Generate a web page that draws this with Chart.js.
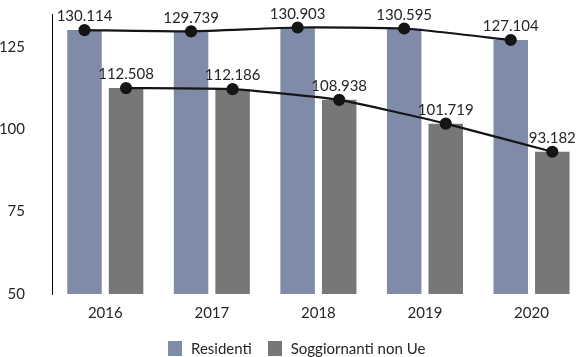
<!DOCTYPE html>
<html>
<head>
<meta charset="utf-8">
<script src="https://cdn.jsdelivr.net/npm/chart.js@4.4.1/dist/chart.umd.min.js"></script>
<style>
  html, body { margin: 0; padding: 0; background: #fff; overflow: hidden; }
  body { width: 584px; height: 357px; position: relative; font-family: 'Lato', sans-serif; }
  .chart-box { position: absolute; left: 0; top: 0; width: 592px; height: 357px; }
  .legend { position: absolute; left: 168px; top: 339px; display: flex; align-items: center; font-size: 15px; color: #262626; }
  .legend span.sw { display: inline-block; width: 14px; height: 15px; margin-right: 9px; }
  .legend .item { display: flex; align-items: center; margin-right: 16px; }
</style>
</head>
<body>
<div class="chart-box"><canvas id="chart"></canvas></div>
<div class="legend" id="legend"></div>
<script>
// years on the x axis
const years = ['2016', '2017', '2018', '2019', '2020'];
// values in thousands
const residenti = [130.114, 129.739, 130.903, 130.595, 127.104];
const soggiornanti = [112.508, 112.186, 108.938, 101.719, 93.182];
const yTicks = [50, 75, 100, 125];

const seriesNames = ['Residenti', 'Soggiornanti non Ue'];
const barColors = ['#7f8ba8', '#767779'];
const lineColor = '#151515';
const textColor = '#262626';
const fontSize = 15;

// each year holds two bars, left and right of the year's centre;
// the line points sit on the middle of their bar
const shift = 0.195;
const barPct = 0.83;

const toPoints = (vals, off) => vals.map((v, i) => ({ x: i + off, y: v }));

const fmt = v => v.toFixed(3);

// value labels above the line points
const pointLabels = {
    id: 'pointLabels',
    afterDatasetsDraw(chart) {
        const ctx = chart.ctx;
        ctx.save();
        ctx.font = fontSize + 'px Lato';
        ctx.fillStyle = textColor;
        ctx.textAlign = 'center';
        ctx.textBaseline = 'bottom';
        chart.data.datasets.forEach((ds, di) => {
            if (ds.type !== 'line') return;
            const meta = chart.getDatasetMeta(di);
            meta.data.forEach((pt, i) => {
                ctx.fillText(fmt(ds.data[i].y), pt.x, pt.y - 6);
            });
        });
        ctx.restore();
    }
};

const barSet = (i, vals, off) => ({
    type: 'bar', label: seriesNames[i], data: toPoints(vals, off), xAxisID: 'xl',
    backgroundColor: barColors[i], order: 2, grouped: false,
    categoryPercentage: 1, barPercentage: barPct
});

const lineSet = (vals, off) => ({
    type: 'line', data: toPoints(vals, off), xAxisID: 'xl',
    borderColor: lineColor, borderWidth: 2.2, tension: 0.15,
    pointRadius: 5, pointBackgroundColor: lineColor, pointBorderColor: lineColor, order: 1
});

new Chart(document.getElementById('chart'), {
    data: {
        labels: years,
        datasets: [
            barSet(0, residenti, -shift),
            barSet(1, soggiornanti, shift),
            lineSet(residenti, -shift),
            lineSet(soggiornanti, shift)
        ]
    },
    options: {
        responsive: true,
        maintainAspectRatio: false,
        animation: false,
        layout: { padding: { top: 14, left: 0, right: 0, bottom: 0 } },
        plugins: { legend: { display: false }, tooltip: { enabled: false } },
        scales: {
            x: {
                type: 'category',
                offset: true,
                grid: { display: false },
                border: { display: false },
                ticks: { font: { family: 'Lato', size: fontSize }, color: textColor, padding: 2 },
                afterFit: s => { s.height = 63; }
            },
            xl: {
                type: 'linear',
                display: false,
                offset: false,
                min: -0.5,
                max: years.length - 0.5
            },
            y: {
                min: 50,
                max: 135,
                grid: { display: false },
                border: { display: true, color: '#000', width: 1 },
                afterBuildTicks: s => { s.ticks = yTicks.map(v => ({ value: v })); },
                ticks: { font: { family: 'Lato', size: fontSize }, color: textColor, padding: 19 },
                afterFit: s => {
                    s.width = 52;
                    // the tick padding would otherwise push the plot down
                    s.paddingTop = 0;
                    s.paddingBottom = 0;
                }
            }
        }
    },
    plugins: [pointLabels]
});

// legend below the plot
const legend = document.getElementById('legend');
seriesNames.forEach((name, i) => {
    const item = document.createElement('div');
    item.className = 'item';
    item.innerHTML = '<span class="sw" style="background:' + barColors[i] + '"></span>' + name;
    legend.appendChild(item);
});
</script>
</body>
</html>
